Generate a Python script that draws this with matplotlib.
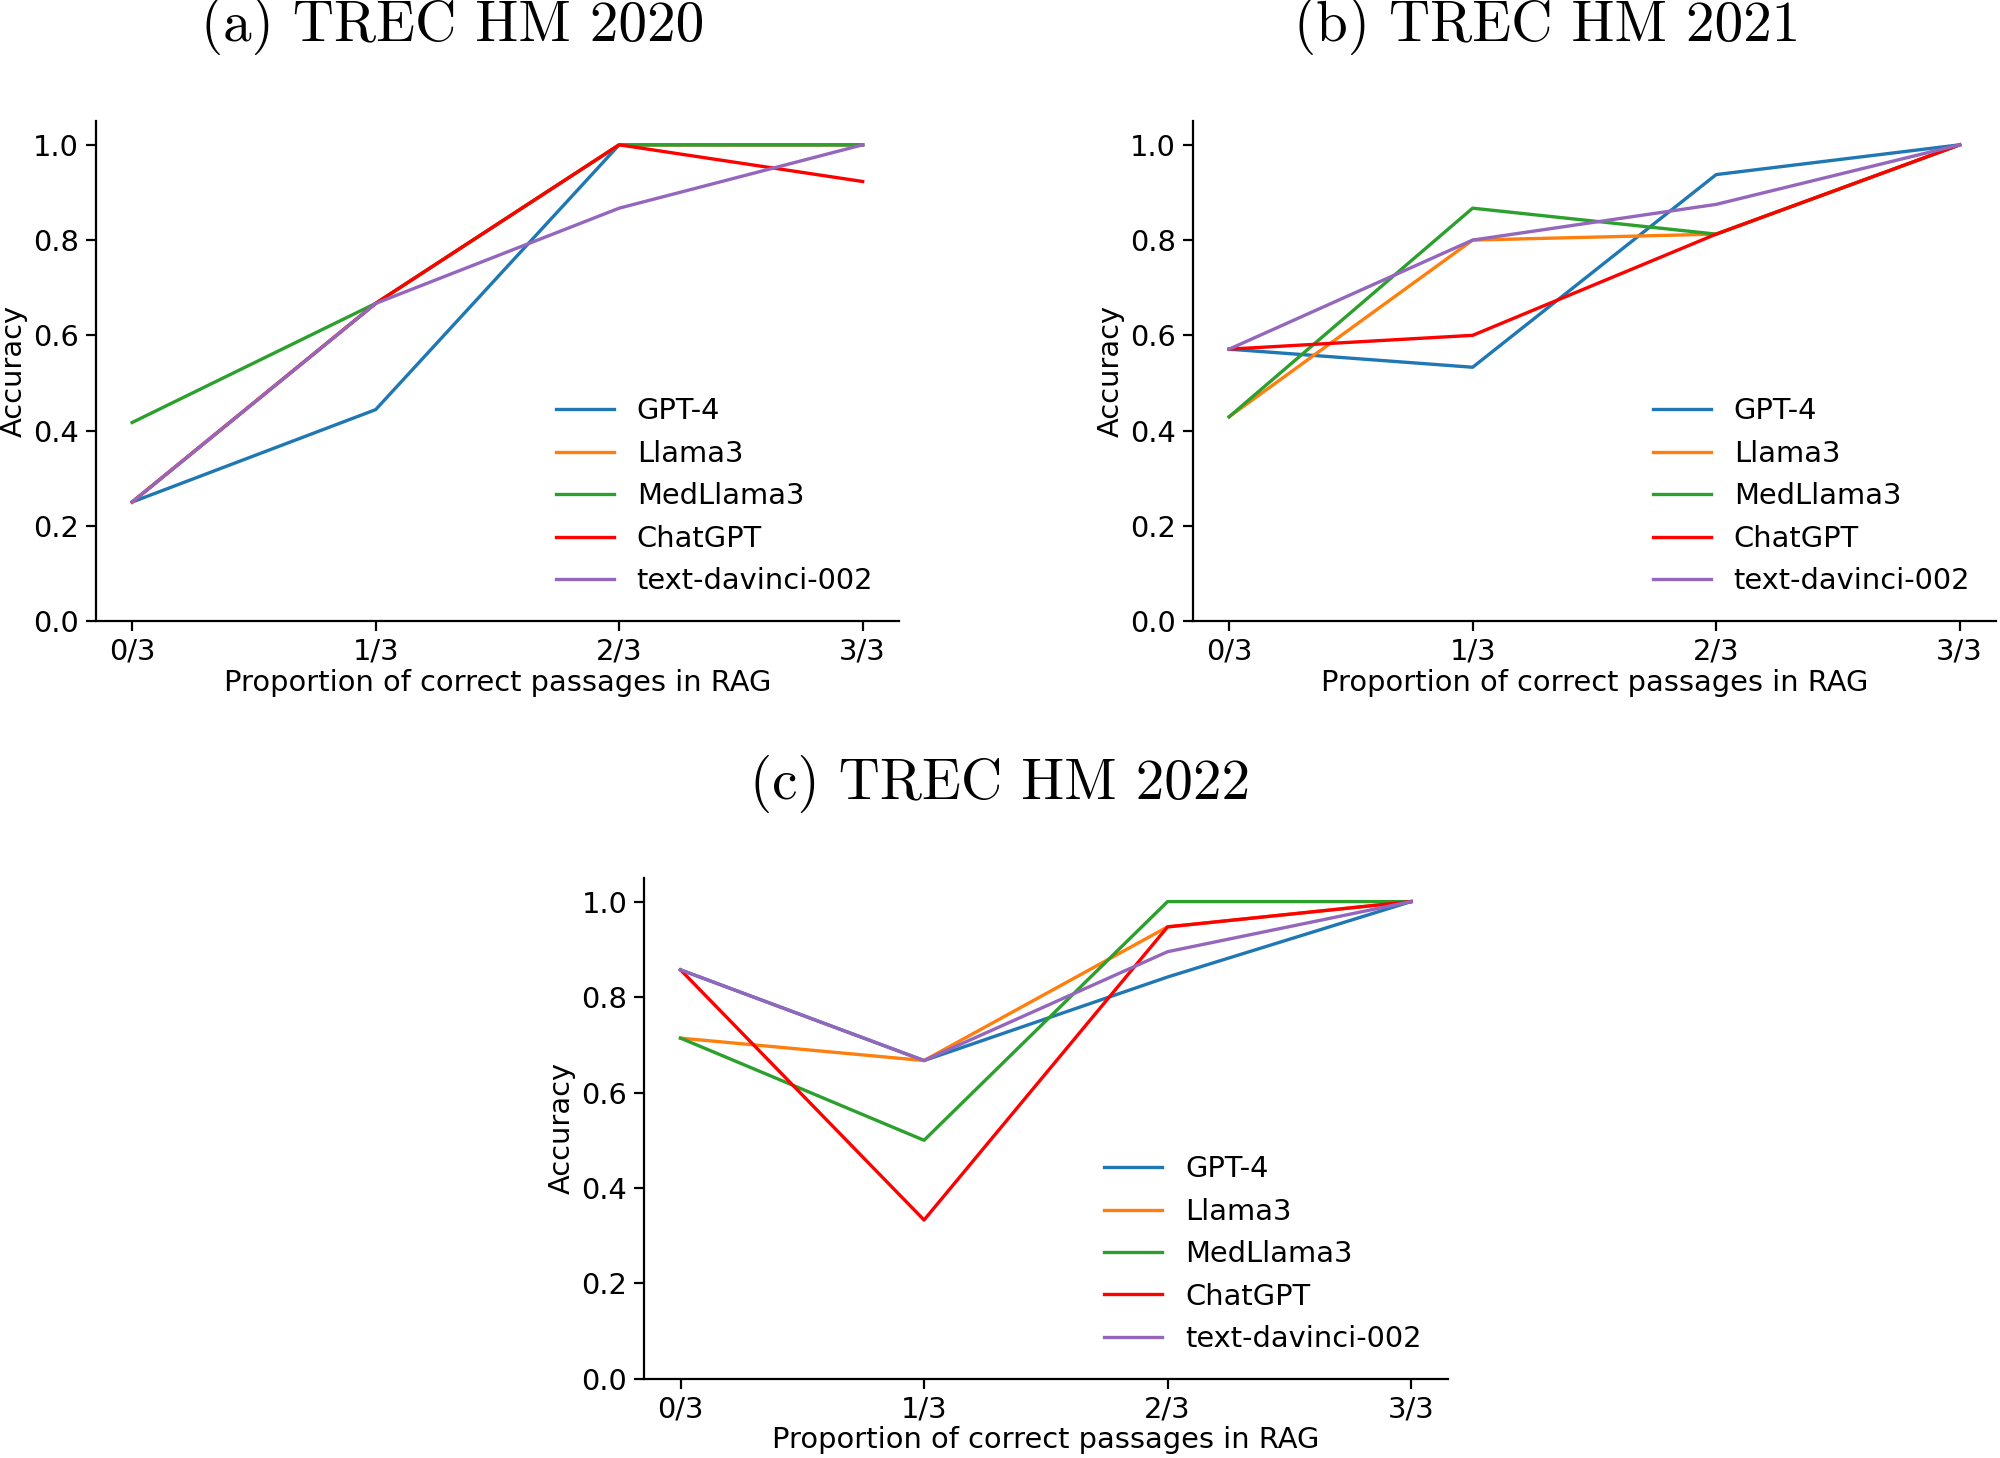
import numpy as np
import matplotlib
matplotlib.use("Agg")
import matplotlib.pyplot as plt

# x categories
x_labels = ["0/3", "1/3", "2/3", "3/3"]
models = ["GPT-4", "Llama3", "MedLlama3", "ChatGPT", "text-davinci-002"]
colors = ["#1f77b4", "#ff7f0e", "#2ca02c", "#ff0000", "#9467bd"]

# accuracy values
hm2020 = {
    "GPT-4": [0.25, 0.444, 1.0, 1.0],
    "Llama3": [0.25, 0.667, 1.0, 1.0],
    "MedLlama3": [0.417, 0.667, 1.0, 1.0],
    "ChatGPT": [0.25, 0.667, 1.0, 0.923],
    "text-davinci-002": [0.25, 0.667, 0.867, 1.0],
}
hm2021 = {
    "GPT-4": [0.571, 0.533, 0.9375, 1.0],
    "Llama3": [0.429, 0.8, 0.8125, 1.0],
    "MedLlama3": [0.429, 0.867, 0.8125, 1.0],
    "ChatGPT": [0.571, 0.6, 0.8125, 1.0],
    "text-davinci-002": [0.571, 0.8, 0.875, 1.0],
}
hm2022 = {
    "GPT-4": [0.857, 0.667, 0.842, 1.0],
    "Llama3": [0.714, 0.667, 0.947, 1.0],
    "MedLlama3": [0.714, 0.5, 1.0, 1.0],
    "ChatGPT": [0.857, 0.333, 0.947, 1.0],
    "text-davinci-002": [0.857, 0.667, 0.895, 1.0],
}

# title, data, axes rect, title position
panels = [
    ("(a) TREC HM 2020", hm2020, [0.0478, 0.574, 0.4018, 0.343], (0.2262, 0.982)),
    ("(b) TREC HM 2021", hm2021, [0.5963, 0.574, 0.4018, 0.343], (0.7736, 0.982)),
    ("(c) TREC HM 2022", hm2022, [0.322, 0.0542, 0.4018, 0.3438], (0.5, 0.462)),
]

plt.rcParams["font.size"] = 10.4
fig = plt.figure(figsize=(10, 7.29), dpi=200)

for title, data, rect, tpos in panels:
    ax = fig.add_axes(rect)
    xs = np.arange(len(x_labels))
    for name, c in zip(models, colors):
        ax.plot(xs, data[name], color=c, lw=1.2, label=name)
    ax.set_xticks(xs)
    ax.set_xticklabels(x_labels)
    ax.set_ylim(0, 1.05)
    ax.set_yticks([0.0, 0.2, 0.4, 0.6, 0.8, 1.0])
    ax.tick_params(axis="both", pad=2.5)
    ax.set_xlabel("Proportion of correct passages in RAG", labelpad=1)
    ax.set_ylabel("Accuracy", labelpad=2)
    ax.spines["top"].set_visible(False)
    ax.spines["right"].set_visible(False)
    ax.legend(loc="lower right", frameon=False)
    fig.text(tpos[0], tpos[1], title, fontfamily="cmr10", fontsize=20.6,
             ha="center", va="center")

fig.savefig("out.png", dpi=200)
